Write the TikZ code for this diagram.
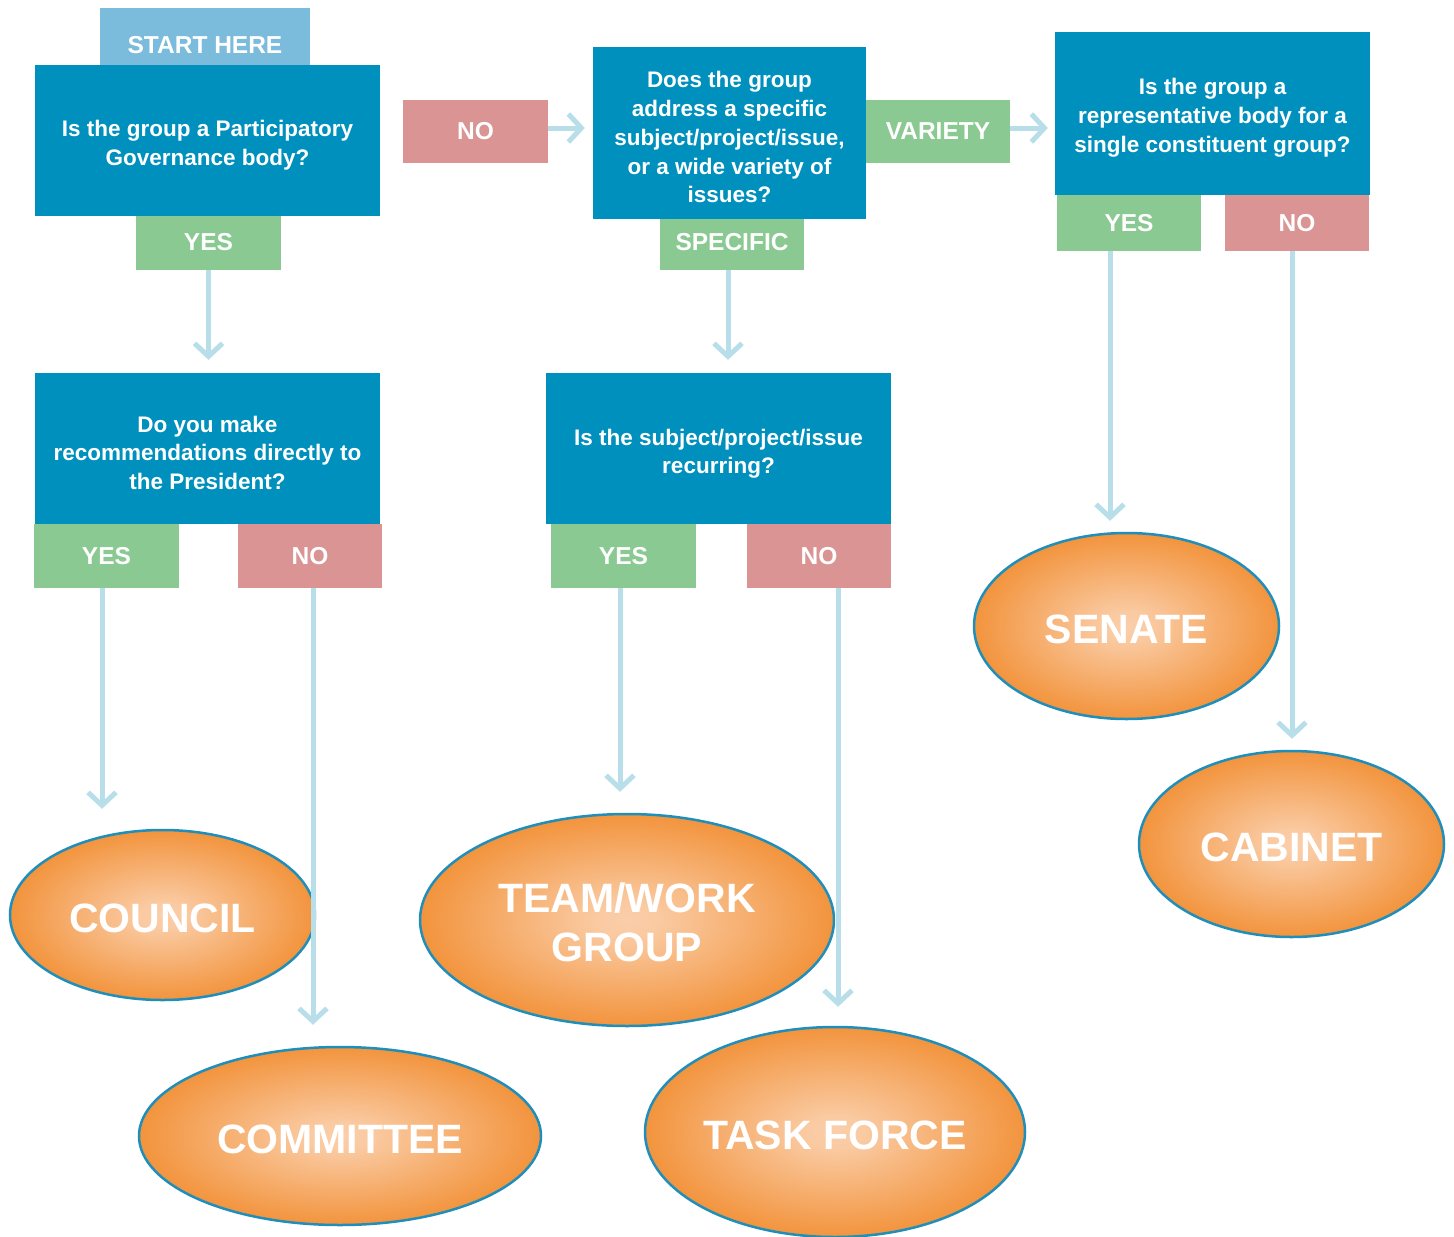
\documentclass[tikz,border=0pt]{standalone}
\usepackage{fontspec}
\setmainfont{Liberation Sans}
\usetikzlibrary{shapes.geometric,arrows.meta}

\definecolor{qblue}{RGB}{0,144,189}
\definecolor{startblue}{RGB}{123,187,219}
\definecolor{yesgreen}{RGB}{139,201,147}
\definecolor{nopink}{RGB}{217,148,147}
\definecolor{flow}{RGB}{183,222,233}
\definecolor{rim}{RGB}{32,142,186}

% peach centre fading to orange at the rim
\pgfdeclareradialshading{peach}{\pgfpoint{0bp}{0bp}}{%
  rgb(0bp)=(0.98,0.81,0.67);
  rgb(4bp)=(0.98,0.79,0.63);
  rgb(25bp)=(0.95,0.58,0.24);
  rgb(50bp)=(0.95,0.58,0.24)}

% tall strut on a first line sets the text block a little lower in its box
\newcommand{\qlead}{\rule{0pt}{25pt}}
\newcommand{\rlead}{\rule{0pt}{35pt}}

\tikzset{
  qbox/.style={rectangle, fill=qblue, text=white, align=center, inner sep=0pt,
    font=\fontsize{22.5}{28.7}\selectfont\bfseries},
  tag/.style={rectangle, text=white, align=center, inner sep=0pt,
    font=\fontsize{24.5}{30}\selectfont\bfseries},
  yestag/.style={tag, fill=yesgreen},
  notag/.style={tag, fill=nopink},
  result/.style={ellipse, shading=peach, draw=rim, line width=2.5pt, text=white,
    align=center, inner sep=0pt, font=\fontsize{41}{49}\selectfont\bfseries},
  flowarrow/.style={draw=flow, line width=5pt,
    -{Straight Barb[length=13pt,width=28pt]}},
}

\begin{document}
\begin{tikzpicture}[x=1pt,y=-1pt]
\useasboundingbox (0,0) rectangle (1454,1237);

% start marker and first question
\node[tag, fill=startblue, minimum width=210pt, minimum height=57pt,
  text height=33pt, text depth=0pt] (start) at (205,36.5) {START HERE};
\node[qbox, minimum width=345pt, minimum height=151pt] (q1) at (207.5,140.5)
  {\qlead Is the group a Participatory\\Governance body?};
\node[yestag, minimum width=145pt, minimum height=54pt,
  text height=18pt, text depth=3pt] (yes1) at (208.5,243) {YES};
\node[notag, minimum width=145pt, minimum height=63pt] (no1) at (475.5,131.5) {NO};

% scope of the group
\node[qbox, minimum width=273pt, minimum height=172pt] (q2) at (729.5,133)
  {\qlead Does the group\\address a specific\\subject/project/issue,\\or a wide variety of\\issues?};
\node[yestag, minimum width=144pt, minimum height=63pt] (variety) at (938,131.5) {VARIETY};
\node[yestag, minimum width=144pt, minimum height=51pt,
  text height=18pt, text depth=7pt] (specific) at (732,244.5) {SPECIFIC};

% representation
\node[qbox, minimum width=315pt, minimum height=163pt] (q3) at (1212.5,113.5)
  {\qlead Is the group a\\representative body for a\\single constituent group?};
\node[yestag, minimum width=144pt, minimum height=56pt] (yes3) at (1129,223) {YES};
\node[notag, minimum width=144pt, minimum height=56pt] (no3) at (1297,223) {NO};

% reporting line
\node[qbox, minimum width=345pt, minimum height=151pt] (q4) at (207.5,448.5)
  {\qlead Do you make\\recommendations directly to\\the President?};
\node[yestag, minimum width=145pt, minimum height=64pt] (yes4) at (106.5,556) {YES};
\node[notag, minimum width=144pt, minimum height=64pt] (no4) at (310,556) {NO};

% recurrence
\node[qbox, minimum width=345pt, minimum height=151pt] (q5) at (718.5,448.5)
  {\rule{0pt}{27pt}Is the subject/project/issue\\recurring?};
\node[yestag, minimum width=145pt, minimum height=64pt] (yes5) at (623.5,556) {YES};
\node[notag, minimum width=144pt, minimum height=64pt] (no5) at (819,556) {NO};

% outcomes
\node[result, minimum width=305pt, minimum height=170pt] (council) at (162.5,915) {\rlead COUNCIL};
\node[result, minimum width=402pt, minimum height=178pt] (committee) at (340,1136) {\rlead COMMITTEE};
\node[result, minimum width=414pt, minimum height=212pt] (team) at (627,920) {\rlead TEAM/WORK\\GROUP};
\node[result, minimum width=380pt, minimum height=210pt] (taskforce) at (835,1132) {\rlead TASK FORCE};
\node[result, minimum width=305pt, minimum height=186pt] (senate) at (1126.5,626) {\rlead SENATE};
\node[result, minimum width=305pt, minimum height=186pt] (cabinet) at (1291.5,844) {\rlead CABINET};

% connectors
\draw[flowarrow, shorten >=13pt] (yes1.south) -- (yes1.south |- q4.north);
\draw[flowarrow, shorten >=13pt] ([xshift=-4pt]specific.south) -- ([xshift=-4pt]specific.south |- q5.north);
\draw[flowarrow, shorten >=8pt] ([yshift=3.5pt]no1.east) -- ([yshift=3.5pt]no1.east -| q2.west);
\draw[flowarrow, shorten >=7pt] ([yshift=3.5pt]variety.east) -- ([yshift=3.5pt]variety.east -| q3.west);
\draw[flowarrow, shorten >=20pt] ([xshift=-4.5pt]yes4.south) -- ([xshift=-4.5pt]yes4.south |- council.north);
\draw[flowarrow, shorten >=21pt] ([xshift=3pt]no4.south) -- ([xshift=3pt]no4.south |- committee.north);
\draw[flowarrow, shorten >=21pt] ([xshift=-3.5pt]yes5.south) -- ([xshift=-3.5pt]yes5.south |- team.north);
\draw[flowarrow, shorten >=19pt] ([xshift=19pt]no5.south) -- ([xshift=19pt]no5.south |- taskforce.north);
\draw[flowarrow, shorten >=11pt] ([xshift=-19pt]yes3.south) -- ([xshift=-19pt]yes3.south |- senate.north);
\draw[flowarrow, shorten >=11pt] ([xshift=-5pt]no3.south) -- ([xshift=-5pt]no3.south |- cabinet.north);
\end{tikzpicture}
\end{document}
